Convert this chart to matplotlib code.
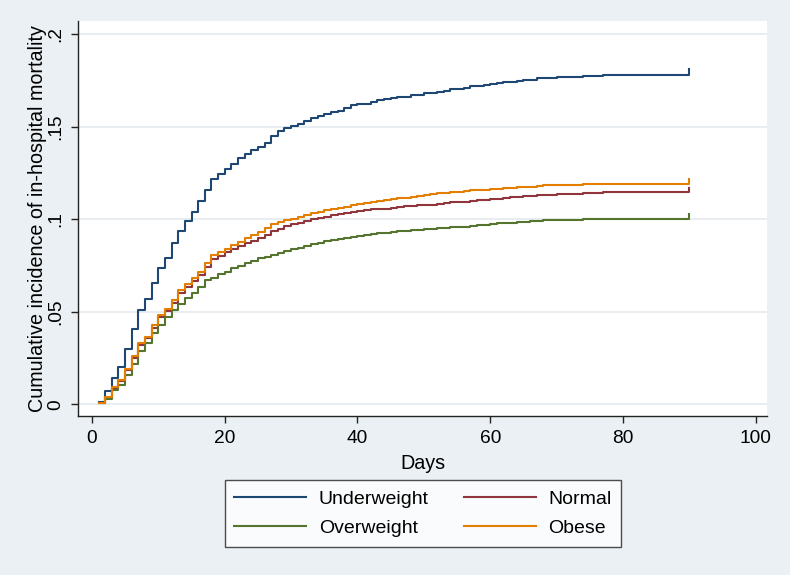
import matplotlib
matplotlib.use("Agg")
import matplotlib.pyplot as plt
from matplotlib.lines import Line2D

plt.rcParams['font.family'] = ['Liberation Sans', 'DejaVu Sans']

# ---- data (step times in days, cumulative incidence) ----
uw_days = list(range(1, 41)) + [42, 43, 44, 45, 46, 48, 50, 52, 53, 54, 56, 57, 59, 60,
                                61, 62, 64, 65, 67, 70, 74, 77, 90]
uw_vals = [.0014, .0072, .0144, .0200, .0300, .0405, .0508, .0567, .0657, .0735,
           .0790, .0870, .0935, .0990, .1040, .1100, .1160, .1220, .1245, .1272,
           .1300, .1333, .1355, .1377, .1393, .1414, .1449, .1476, .1492, .1504,
           .1517, .1533, .1550, .1560, .1569, .1578, .1587, .1603, .1618, .1623,
           .1634, .1643, .1650, .1657, .1661, .1670, .1683, .1688, .1695, .1703,
           .1712, .1719, .1725, .1732, .1737, .1743, .1750, .1755, .1762, .1768,
           .1776, .1782, .1813]

nm_days = list(range(1, 43)) + [44, 45, 46, 47, 48, 49, 50, 52, 53, 54, 56, 57, 58, 59,
                                60, 61, 62, 63, 64, 65, 67, 68, 70, 72, 74, 77, 90]
nm_vals = [.0009, .0036, .0090, .0125, .0185, .0250, .0319, .0360, .0414, .0470,
           .0503, .0546, .0600, .0636, .0668, .0699, .0740, .0785, .0802, .0822,
           .0839, .0856, .0870, .0883, .0897, .0914, .0937, .0950, .0964, .0973,
           .0982, .0991, .1000, .1009, .1014, .1022, .1027, .1032, .1040, .1045,
           .1050, .1054, .1058, .1062, .1066, .1070, .1073, .1076, .1080, .1085,
           .1088, .1091, .1096, .1099, .1102, .1105, .1108, .1112, .1116, .1119,
           .1122, .1125, .1129, .1132, .1136, .1139, .1142, .1146, .1171]

ow_days = list(range(1, 49)) + [50, 51, 52, 54, 55, 57, 58, 60, 61, 62, 64, 66, 68, 70,
                                74, 77, 90]
ow_vals = [.0009, .0030, .0080, .0105, .0160, .0220, .0290, .0330, .0384, .0430,
           .0474, .0511, .0543, .0574, .0604, .0636, .0672, .0685, .0703, .0717,
           .0735, .0749, .0762, .0776, .0789, .0798, .0808, .0818, .0829, .0838,
           .0847, .0856, .0865, .0874, .0881, .0888, .0895, .0901, .0906, .0910,
           .0914, .0919, .0924, .0928, .0932, .0935, .0939, .0942, .0947, .0950,
           .0954, .0958, .0961, .0966, .0969, .0975, .0978, .0982, .0986, .0990,
           .0994, .0997, .1000, .1002, .1027]

ob_days = list(range(1, 59)) + [60, 61, 62, 64, 65, 67, 68, 70, 72, 74, 77, 90]
ob_vals = [.0009, .0038, .0094, .0131, .0193, .0261, .0331, .0366, .0427, .0481,
           .0515, .0562, .0616, .0652, .0684, .0717, .0765, .0807, .0823, .0839,
           .0863, .0879, .0897, .0913, .0930, .0955, .0973, .0986, .0996, .1004,
           .1014, .1023, .1032, .1041, .1049, .1058, .1063, .1068, .1076, .1081,
           .1086, .1094, .1099, .1104, .1109, .1114, .1118, .1123, .1127, .1132,
           .1136, .1141, .1144, .1146, .1150, .1153, .1156, .1159, .1163, .1166,
           .1170, .1174, .1177, .1180, .1183, .1185, .1187, .1189, .1192, .1218]

series_names = ["Underweight", "Normal", "Overweight", "Obese"]
x_ticks = [0, 20, 40, 60, 80, 100]
y_ticks = [0, 0.05, 0.1, 0.15, 0.2]
y_tick_labels = ["0", ".05", ".1", ".15", ".2"]

colors = {"Underweight": "#1E4774", "Normal": "#90353B",
          "Overweight": "#55752F", "Obese": "#E37E00"}
BG = "#EAF0F3"

fig = plt.figure(figsize=(7.9, 5.75), dpi=100, facecolor=BG)
ax = fig.add_axes([78 / 790, 1 - 416 / 575, (767 - 78) / 790, (416 - 21) / 575])
ax.set_facecolor("white")

data = {"Underweight": (uw_days, uw_vals), "Normal": (nm_days, nm_vals),
        "Overweight": (ow_days, ow_vals), "Obese": (ob_days, ob_vals)}
for name in series_names:
    d, v = data[name]
    ax.step(d, v, where="post", color=colors[name], lw=1.5, zorder=3)

ax.set_xlim(-2.1, 101.7)
ax.set_ylim(-0.0063, 0.2072)
ax.set_xticks(x_ticks)
ax.set_xticklabels([str(t) for t in x_ticks])
ax.set_yticks(y_ticks)
ax.set_yticklabels(y_tick_labels, rotation=90, va="center")
ax.grid(axis="y", color="#E3EAEE", lw=1.2, zorder=0)
ax.set_axisbelow(True)
for s in ["top", "right"]:
    ax.spines[s].set_visible(False)
for s in ["left", "bottom"]:
    ax.spines[s].set_color("#222222")
    ax.spines[s].set_linewidth(1.0)
ax.tick_params(axis="both", direction="out", length=5, width=1.0,
               colors="#222222", labelsize=13.8, labelcolor="black", pad=5)
ax.set_xlabel("Days", fontsize=14.2, labelpad=5)
ax.set_ylabel("Cumulative incidence of in-hospital mortality", fontsize=14.2, labelpad=0)

order = ["Underweight", "Overweight", "Normal", "Obese"]
handles = [Line2D([0], [0], color=colors[n], lw=1.5) for n in order]
leg = fig.legend(handles, order, loc="center", bbox_to_anchor=(423 / 790, 1 - 513.5 / 575),
                 ncol=2, fontsize=14, frameon=True, fancybox=False, edgecolor="#222222",
                 facecolor="white", handlelength=3.7, handletextpad=0.65,
                 columnspacing=1.8, labelspacing=0.6, borderpad=0.5, borderaxespad=0)
leg.get_frame().set_linewidth(1.0)

fig.savefig("out.png", dpi=100, facecolor=BG)
